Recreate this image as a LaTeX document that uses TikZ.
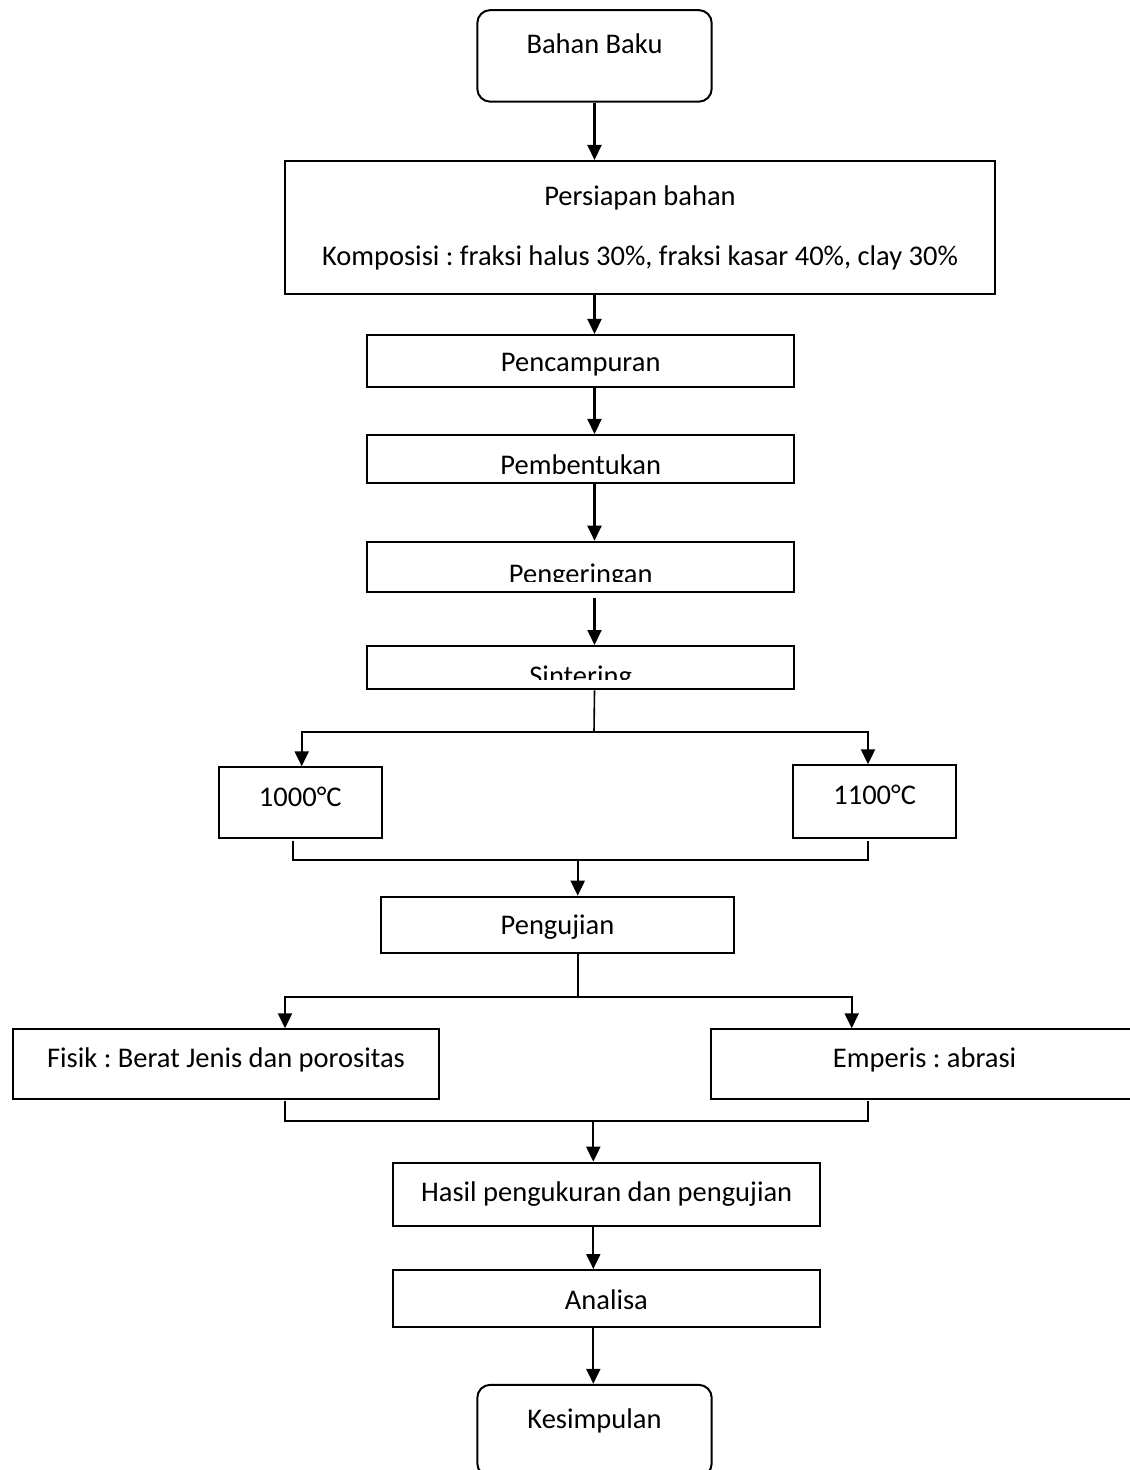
\documentclass[tikz,border=0pt]{standalone}
\usepackage{fontspec}
\setmainfont{Carlito}
\usetikzlibrary{arrows.meta}
\frenchspacing

\tikzset{
  kotak/.style={draw, line width=1pt, inner sep=0pt, anchor=base, minimum width=213.35pt},
  bulat/.style={kotak, rounded corners=6.5pt, minimum width=117.2pt, text height=21.6pt, text depth=24.2pt},
  panah/.style={line width=1.05pt, -{Triangle[length=7.5pt,width=7pt]}},
  garis/.style={line width=.8pt}
}

\begin{document}
\begin{tikzpicture}[x=0.5pt, y=-0.5pt, every node/.style={font=\fontsize{14.25}{30}\selectfont}]
  \useasboundingbox (0,0) rectangle (1129,1470);

  % kotak proses
  \node[bulat] (bahan) at (594.5,53.3) {Bahan Baku};
  \node[draw, line width=1pt, inner sep=0pt, anchor=north, minimum width=355pt, minimum height=66.65pt, align=center] (persiapan) at (640,160)
    {Persiapan bahan\\Komposisi : fraksi halus 30\%, fraksi kasar 40\%, clay 30\%};
  \node[kotak, text height=18.35pt, text depth=7.5pt] (campur) at (580.7,371.7) {Pencampuran};
  \node[kotak, text height=19.5pt, text depth=4.65pt] (bentuk) at (580.7,474) {};
  \node[kotak, text height=20.85pt, text depth=4.15pt] (kering) at (580.7,583.4) {};
  \node[kotak, text height=19.5pt, text depth=2.15pt] (sinter) at (580.7,685) {};

  % teks yang terpotong
  \begin{scope}
    \clip (bentuk.north west) rectangle ([yshift=5.4pt]bentuk.south east);
    \node[anchor=base] at (bentuk.base) {Pembentukan};
  \end{scope}
  \begin{scope}
    \clip (kering.north west) rectangle ([yshift=5.85pt]kering.south east);
    \node[anchor=base] at (kering.base) {Pengeringan};
  \end{scope}
  \begin{scope}
    \clip (sinter.north west) rectangle ([yshift=5.5pt]sinter.south east);
    \node[anchor=base] at (sinter.base) {Sintering};
  \end{scope}

  \node[kotak, minimum width=81.35pt, text height=19.35pt, text depth=15.85pt] (suhuA) at (300.3,806) {1000°C};
  \node[kotak, minimum width=81.35pt, text height=19.35pt, text depth=16.85pt] (suhuB) at (874.7,804) {1100°C};
  \node[kotak, minimum width=176.5pt, text height=18.65pt, text depth=9.65pt] (uji) at (557.5,934) {Pengujian};
  \node[kotak, text height=19.2pt, text depth=15.5pt] (fisik) at (226,1067.7) {Fisik : Berat Jenis dan porositas};
  \node[kotak, text height=19.2pt, text depth=15.5pt] (emperis) at (924.6,1067.7) {Emperis : abrasi};
  \node[kotak, text height=19.5pt, text depth=12.15pt] (hasil) at (606.7,1201.7) {Hasil pengukuran dan pengujian};
  \node[kotak, text height=19.5pt, text depth=8.85pt] (analisa) at (606.4,1309) {Analisa};
  \node[bulat] (simpul) at (594.5,1428) {Kesimpulan};

  % alur utama
  \draw[panah] (bahan) -- (bahan |- persiapan.north);
  \draw[panah] (bahan |- persiapan.south) -- (bahan |- campur.north);
  \draw[panah] (bahan |- campur.south) -- (bahan |- bentuk.north);
  \draw[panah] (bahan |- bentuk.south) -- (bahan |- kering.north);
  \draw[panah, shorten <=2.5pt] (bahan |- kering.south) -- (bahan |- sinter.north);

  % cabang suhu sintering
  \coordinate (cabang1) at (594,732);
  \draw[garis] (bahan |- sinter.south) -- (cabang1);
  \draw[panah] (cabang1) -| ([xshift=0.7pt]suhuA.north);
  \draw[panah] (cabang1) -| ([xshift=-3.35pt]suhuB.north);
  \coordinate (gabung1) at (577.7,860);
  \draw[garis] ([xshift=-3.65pt,yshift=-1pt]suhuA.south) |- (gabung1) -| ([xshift=-3.35pt,yshift=-1pt]suhuB.south);
  \draw[panah] (gabung1) -- (gabung1 |- uji.north);

  % cabang pengujian
  \coordinate (cabang2) at (578,996.7);
  \draw[garis] (cabang2 |- uji.south) -- (cabang2);
  \draw[panah] (cabang2) -| ([xshift=29.5pt]fisik.north);
  \draw[panah] (cabang2) -| ([xshift=-36.45pt]emperis.north);
  \coordinate (gabung2) at (593.3,1121);
  \draw[garis] ([xshift=29.5pt,yshift=-0.7pt]fisik.south) |- (gabung2) -| ([xshift=-28.3pt,yshift=-0.7pt]emperis.south);
  \draw[panah] (gabung2) -- (gabung2 |- hasil.north);
  \draw[panah] (gabung2 |- hasil.south) -- (gabung2 |- analisa.north);
  \draw[panah] (gabung2 |- analisa.south) -- (gabung2 |- simpul.north);
\end{tikzpicture}
\end{document}
